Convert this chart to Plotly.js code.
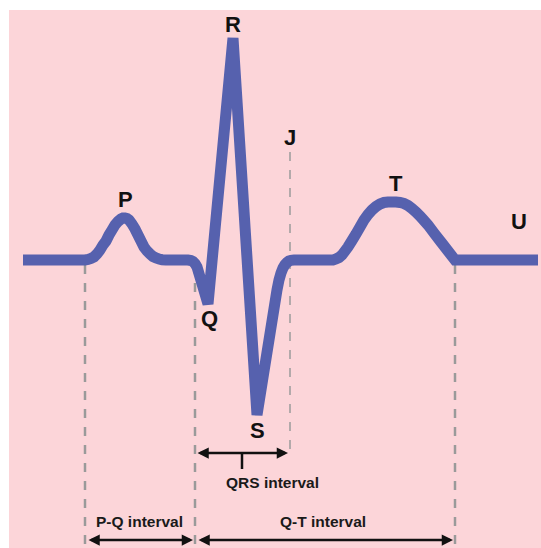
<!DOCTYPE html>
<html>
<head>
<meta charset="utf-8">
<script src="https://cdn.plot.ly/plotly-3.0.1.min.js"></script>
<style>
html,body{margin:0;padding:0;background:#fff;}
#chart{width:541px;height:548px;}
</style>
</head>
<body>
<div id="chart"></div>
<script>
// ECG waveform: time (x) and amplitude (y, baseline = 0)
const baselineT = [23, 82];
const baselineA = [0, 0];
const pWaveT = [85, 88, 91, 94, 97, 100, 103, 106, 109, 112, 115, 118, 121, 123, 125, 127, 129, 132, 135, 138, 141, 144, 147, 150, 153, 156, 159, 162, 166];
const pWaveA = [0, 0.5, 1.5, 3, 6, 10, 15, 19, 25, 30, 35, 38.5, 41, 42, 42, 41.5, 40, 36, 31, 25, 19, 13, 9, 6, 3.5, 2, 1, 0.3, 0];
const qrsT = [188, 191, 193, 195, 197, 208, 233, 257, 277, 279, 281, 283, 285, 287, 289, 291, 294];
const qrsA = [0, -0.5, -1.5, -3.5, -7, -44, 222, -155, -30, -20, -13, -8, -4.5, -2.5, -1, -0.3, 0];
const tWaveT = [333, 336, 339, 342, 345, 348, 352, 356, 360, 364, 368, 372, 376, 380, 384, 388, 392, 396, 400, 404, 408, 412, 416, 420, 424, 428, 434, 441, 448, 455, 538];
const tWaveA = [0, 1, 2.5, 5, 9, 13, 19.5, 26, 33, 40, 45.5, 50, 53.5, 56, 57.5, 58, 58, 58, 57.5, 56.5, 54.5, 51.5, 48, 44, 39.5, 35, 27, 18, 9, 0, 0];

// Wave labels
const waveLabels = ['R', 'J', 'P', 'T', 'U', 'Q', 'S'];
const waveLabelT = [233, 290, 125, 396, 519, 209, 257];
const waveLabelA = [236, 123, 61, 77, 39, -58, -170];

// Interval markers
const markerNames = ['P onset', 'Q onset', 'J point', 'T end'];
const markerT = [85, 195, 290, 455];
const markerTop = [-5, -5, 108, -5];
const markerBottom = [-288, -288, -195, -288];

const intervalNames = ['QRS interval', 'P-Q interval', 'Q-T interval'];
const intervalStart = [196, 87, 197];
const intervalEnd = [288, 193, 453];
const intervalLevel = [-193, -280, -280];
const intervalTextT = [272, 139, 323];
const intervalTextA = [-222, -261, -261];

const xs = [].concat(baselineT, pWaveT, qrsT, tWaveT);
const ys = [].concat(baselineA, pWaveA, qrsA, tWaveA);

const trace = {
  x: xs, y: ys, mode: 'lines', type: 'scatter',
  line: {color: '#5661ae', width: 11, shape: 'linear', simplify: false},
  hoverinfo: 'skip'
};

const shapes = markerT.map((t, i) => ({
  type: 'line', xref: 'x', yref: 'y', layer: 'below',
  x0: t, x1: t, y0: markerTop[i], y1: markerBottom[i],
  line: {color: '#9a9a9a', width: i === 2 ? 1.5 : 2.5, dash: 'dash'}
}));
// QRS centre tick
shapes.push({
  type: 'line', xref: 'x', yref: 'y',
  x0: 242, x1: 242, y0: intervalLevel[0], y1: intervalLevel[0] - 16,
  line: {color: '#111', width: 2.5}
});

const annotations = [];
waveLabels.forEach((lab, i) => {
  annotations.push({
    x: waveLabelT[i], y: waveLabelA[i], xref: 'x', yref: 'y', text: lab,
    showarrow: false,
    font: {family: 'Liberation Sans, Arial, sans-serif', size: 22, color: '#111', weight: 'bold'}
  });
});
intervalNames.forEach((name, i) => {
  annotations.push({
    x: intervalEnd[i], y: intervalLevel[i], ax: intervalStart[i], ay: intervalLevel[i],
    xref: 'x', yref: 'y', axref: 'x', ayref: 'y', text: '',
    showarrow: true, arrowhead: 2, arrowsize: 0.9, arrowwidth: 2.5,
    arrowside: 'end+start', arrowcolor: '#111', standoff: 0, startstandoff: 0
  });
  annotations.push({
    x: intervalTextT[i], y: intervalTextA[i], xref: 'x', yref: 'y', text: name,
    showarrow: false,
    font: {family: 'Liberation Sans, Arial, sans-serif', size: 15.5, color: '#1a1a1a', weight: 'bold'}
  });
});

const layout = {
  width: 541, height: 548,
  margin: {l: 9, t: 10, r: 0, b: 0, pad: 0},
  paper_bgcolor: '#ffffff',
  plot_bgcolor: '#fcd5d9',
  showlegend: false,
  xaxis: {range: [9, 541], visible: false, showgrid: false, zeroline: false, fixedrange: true},
  yaxis: {range: [-288, 250], visible: false, showgrid: false, zeroline: false, fixedrange: true},
  shapes: shapes,
  annotations: annotations
};

Plotly.newPlot('chart', [trace], layout, {displayModeBar: false, staticPlot: true});
</script>
</body>
</html>
